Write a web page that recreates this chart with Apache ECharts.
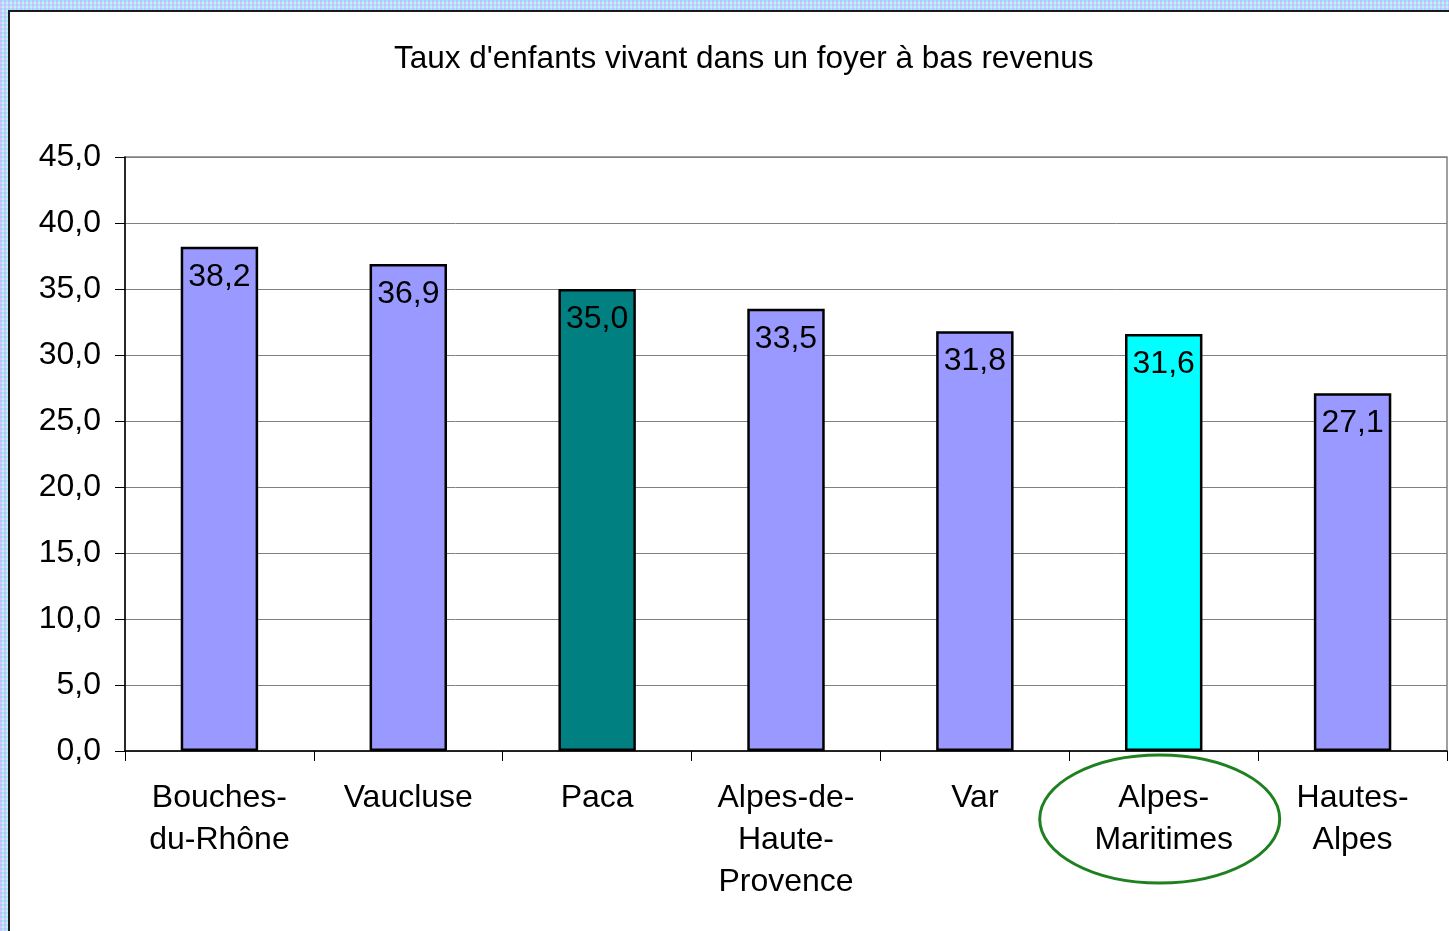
<!DOCTYPE html>
<html>
<head>
<meta charset="utf-8">
<script src="https://cdn.jsdelivr.net/npm/echarts@6/dist/echarts.min.js"></script>
<style>
  html, body {
    margin: 0;
    padding: 0;
    width: 1449px;
    height: 931px;
    overflow: hidden;
    background-color: #c9eef7;
    background-image:
      linear-gradient(90deg, rgba(240,120,255,0.35) 50%, transparent 50%),
      linear-gradient(rgba(90,230,255,0.4) 50%, transparent 50%);
    background-size: 4px 4px;
  }
  .panel {
    position: absolute;
    left: 8px;
    top: 10px;
    right: 0;
    bottom: 0;
    background: #fff;
    border-left: 2px solid #1a1a1a;
    border-top: 2px solid #1a1a1a;
  }
  .chart {
    position: absolute;
    left: 0;
    top: 0;
    width: 1449px;
    height: 931px;
  }
</style>
</head>
<body>
<div class="panel"></div>
<div class="chart" id="chart"></div>
<script>
const categories = ['Bouches-\ndu-Rhône', 'Vaucluse', 'Paca', 'Alpes-de-\nHaute-\nProvence', 'Var', 'Alpes-\nMaritimes', 'Hautes-\nAlpes']
const values = [38.2, 36.9, 35.0, 33.5, 31.8, 31.6, 27.1]
const barColors = ['#9999FF', '#9999FF', '#008080', '#9999FF', '#9999FF', '#00FFFF', '#9999FF']
const yTicks = { min: 0, max: 45, interval: 5 }
const circled = 5

const font = 'Liberation Sans, Arial, sans-serif'
const comma = v => Number(v).toFixed(1).replace('.', ',')

const chart = echarts.init(document.getElementById('chart'), null, { renderer: 'canvas' })

chart.setOption({
  animation: false,
  backgroundColor: 'transparent',
  title: {
    text: "Taux d'enfants vivant dans un foyer à bas revenus",
    left: 389,
    top: 38,
    textStyle: {
      fontFamily: font,
      fontSize: 31.5,
      fontWeight: 'normal',
      color: '#000',
    },
  },
  grid: {
    left: 125,
    right: 2,
    top: 157,
    bottom: 180,
    show: true,
    borderColor: '#808080',
    borderWidth: 1.5,
    backgroundColor: 'transparent',
  },
  xAxis: {
    type: 'category',
    data: categories,
    boundaryGap: true,
    axisLine: { lineStyle: { color: '#000', width: 1.5 } },
    axisTick: { show: true, length: 10, lineStyle: { color: '#000' } },
    axisLabel: {
      interval: 0,
      margin: 26,
      fontFamily: font,
      fontSize: 32,
      lineHeight: 42,
      color: '#000',
    },
  },
  yAxis: {
    type: 'value',
    min: yTicks.min,
    max: yTicks.max,
    interval: yTicks.interval,
    axisLine: { show: true, lineStyle: { color: '#000', width: 1.5 } },
    axisTick: { show: true, length: 10, lineStyle: { color: '#000' } },
    axisLabel: {
      margin: 24,
      fontFamily: font,
      fontSize: 32,
      color: '#000',
      formatter: comma,
    },
    splitLine: { show: true, lineStyle: { color: '#808080', width: 1 } },
  },
  series: [{
    type: 'bar',
    barWidth: '41%',
    data: values.map((v, i) => ({
      value: v,
      itemStyle: { color: barColors[i] },
    })),
    itemStyle: { borderColor: '#000', borderWidth: 2.5 },
    label: {
      show: true,
      position: 'insideTop',
      distance: 14,
      fontFamily: font,
      fontSize: 32,
      color: '#000',
      formatter: p => comma(p.value),
    },
  }],
})

// green ellipse around the circled category label
const cx = chart.convertToPixel({ xAxisIndex: 0 }, circled)
const base = chart.convertToPixel({ yAxisIndex: 0 }, 0)
chart.setOption({
  graphic: [{
    type: 'ellipse',
    shape: { cx: cx - 4, cy: base + 68, rx: 120, ry: 64 },
    style: { fill: 'none', stroke: '#1E801E', lineWidth: 3 },
    z: 100,
  }],
})
</script>
</body>
</html>
